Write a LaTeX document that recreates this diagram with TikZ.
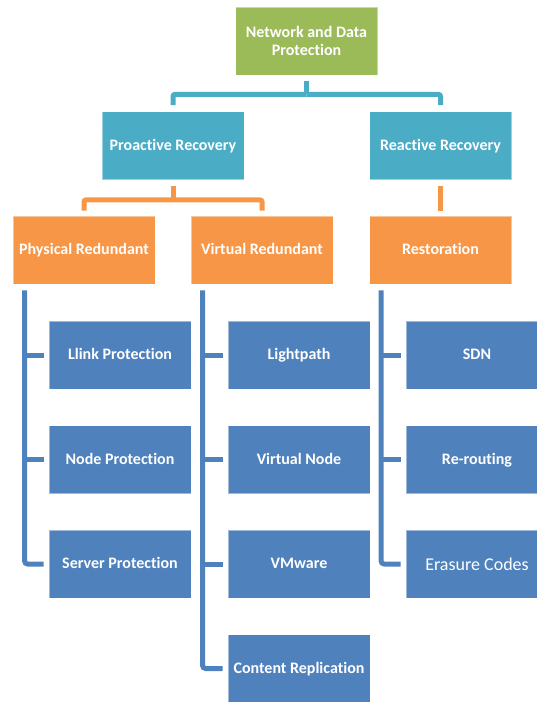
\documentclass[tikz,border=0pt]{standalone}
\usepackage{fontspec}
\setmainfont{Carlito}[RawFeature=-liga]
\usetikzlibrary{positioning}
\definecolor{boxgreen}{HTML}{9BBB59}
\definecolor{boxteal}{HTML}{4BACC6}
\definecolor{boxorange}{HTML}{F79646}
\definecolor{boxblue}{HTML}{4F81BD}
\tikzset{
  card/.style={minimum width=142pt, minimum height=68pt, inner sep=2pt,
    draw=white, draw opacity=0.45, line width=0.8pt,
    text=white, font=\fontsize{16}{18.5}\selectfont\bfseries, align=center},
  oneline/.style={text height=12.5pt, text depth=3pt},
  greencard/.style={card, fill=boxgreen},
  tealcard/.style={card, oneline, fill=boxteal},
  orangecard/.style={card, oneline, fill=boxorange},
  bluecard/.style={card, oneline, fill=boxblue},
  link/.style={line width=5pt, rounded corners=2pt},
  teallink/.style={link, draw=boxteal},
  orangelink/.style={link, draw=boxorange},
  bluelink/.style={link, draw=boxblue, rounded corners=3pt},
}
\begin{document}
\begin{tikzpicture}[x=1pt, y=-1pt]
\useasboundingbox (0,0) rectangle (537,702);
\begin{scope}
\clip (0,0) rectangle (537,702);

% levels 1-3
\node[greencard]  (top)  at (306.5,41)  {Network and Data\\Protection};
\node[tealcard]   (pro)  at (173,145.5) {Proactive Recovery};
\node[tealcard]   (rea)  at (440.5,145.5) {Reactive Recovery};
\node[orangecard] (phys) at (84,250)    {Physical Redundant};
\node[orangecard] (virt) at (262,250)   {Virtual Redundant};
\node[orangecard] (rest) at (440.5,250) {Restoration};

% leaves
\node[bluecard] (l1) at (120,355)   {Llink Protection};
\node[bluecard] (l2) at (120,459.5) {Node Protection};
\node[bluecard] (l3) at (120,564)   {Server Protection};
\node[bluecard] (m1) at (299,355)   {Lightpath};
\node[bluecard] (m2) at (299,459.5) {Virtual Node};
\node[bluecard] (m3) at (299,564)   {VMware};
\node[bluecard] (m4) at (299,668.5) {Content Replication};
\node[bluecard] (r1) at (477,355)   {SDN};
\node[bluecard] (r2) at (477,459.5) {Re-routing};
\node[bluecard, font=\fontsize{18}{20}\selectfont, text height=15pt, text depth=2pt] (r3) at (477,564) {Erasure Codes};

% root to recovery types
\coordinate (tj) at ([yshift=-19pt]top.south);
\draw[teallink] ([yshift=-6pt]top.south) -- (tj);
\draw[teallink] (tj) -| ([yshift=6pt]pro.north);
\draw[teallink] (tj) -| ([yshift=6pt]rea.north);

% recovery types to redundancy kinds
\coordinate (oj) at ([yshift=-20pt]pro.south);
\draw[orangelink] ([yshift=-6pt]pro.south) -- (oj);
\draw[orangelink] (oj) -| ([yshift=5pt]phys.north);
\draw[orangelink] (oj) -| ([yshift=5pt]virt.north);
\draw[orangelink] ([yshift=-6pt]rea.south) -- ([yshift=5pt]rest.north);

% leaf rails
\coordinate (pv) at ([xshift=12pt,yshift=-6pt]phys.south west);
\coordinate (vv) at ([xshift=12pt,yshift=-6pt]virt.south west);
\coordinate (rv) at ([xshift=12pt,yshift=-6pt]rest.south west);

\draw[bluelink] (pv) |- ([xshift=-5pt]l3.west);
\draw[bluelink] (pv |- l1.west) -- ([xshift=-5pt]l1.west);
\draw[bluelink] (pv |- l2.west) -- ([xshift=-5pt]l2.west);

\draw[bluelink] (vv) |- ([xshift=-5pt]m4.west);
\draw[bluelink] (vv |- m1.west) -- ([xshift=-5pt]m1.west);
\draw[bluelink] (vv |- m2.west) -- ([xshift=-5pt]m2.west);
\draw[bluelink] (vv |- m3.west) -- ([xshift=-5pt]m3.west);

\draw[bluelink] (rv) |- ([xshift=-5pt]r3.west);
\draw[bluelink] (rv |- r1.west) -- ([xshift=-5pt]r1.west);
\draw[bluelink] (rv |- r2.west) -- ([xshift=-5pt]r2.west);
\end{scope}
\end{tikzpicture}
\end{document}
